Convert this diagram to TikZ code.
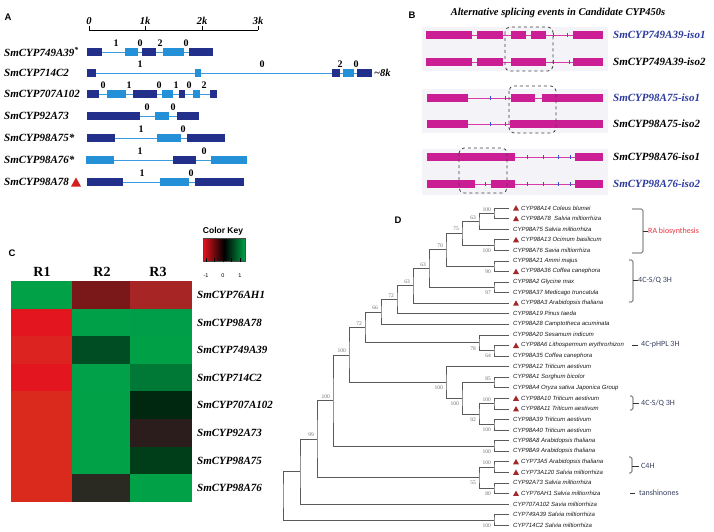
\documentclass[tikz,border=0pt]{standalone}
\usepackage{fontspec}
\setmainfont{Liberation Serif}
\setsansfont{Liberation Sans}
\newfontfamily\cladefont{Carlito}
\usepackage{xcolor}
\usepackage{tikz}
\usetikzlibrary{calc}

\definecolor{exdark}{HTML}{22308C}
\definecolor{exlight}{HTML}{2490D8}
\definecolor{intron}{HTML}{3A9BE0}
\definecolor{isomag}{HTML}{CC1E94}
\definecolor{isoline}{HTML}{D83AA8}
\definecolor{isotick}{HTML}{3A55C8}
\definecolor{isoblue}{HTML}{2B3A9E}
\definecolor{isobg}{HTML}{F3F3F8}
\definecolor{markred}{HTML}{D42020}
\definecolor{treered}{HTML}{A3282A}
\definecolor{treegrey}{HTML}{5A5A5A}
\definecolor{bootgrey}{HTML}{707070}
\definecolor{leafgrey}{HTML}{1A1A1A}
\definecolor{cladered}{HTML}{E8333C}
\definecolor{cladeblue}{HTML}{3A405E}
\definecolor{keyred}{HTML}{E8141C}
\definecolor{keygreen}{HTML}{00A147}

\tikzset{
  panel/.style={inner sep=0pt, font=\sffamily\bfseries\fontsize{9.5}{10}\selectfont},
  scalelbl/.style={inner sep=0pt, font=\bfseries\itshape\fontsize{10.5}{12}\selectfont},
  genelabel/.style={anchor=west, inner sep=0pt, font=\bfseries\itshape\fontsize{11}{12}\selectfont},
  phase/.style={inner sep=0pt, font=\bfseries\fontsize{10}{11}\selectfont},
  intronA/.style={draw=intron, line width=0.8pt},
  splicetitle/.style={inner sep=0pt, font=\bfseries\itshape\fontsize{10.5}{12}\selectfont},
  isolabel/.style={anchor=west, inner sep=0pt, font=\bfseries\itshape\fontsize{11}{12}\selectfont},
  isoline/.style={draw=isoline, line width=0.6pt},
  splicebox/.style={draw=black!75, dashed, line width=0.8pt, rounded corners=5pt},
  collabel/.style={inner sep=0pt, font=\bfseries\fontsize{14}{15}\selectfont},
  hmlabel/.style={anchor=west, inner sep=0pt, font=\bfseries\itshape\fontsize{11}{12}\selectfont},
  keytitle/.style={inner sep=0pt, font=\sffamily\bfseries\fontsize{8.5}{9}\selectfont},
  keynum/.style={inner sep=0pt, font=\sffamily\fontsize{5.5}{6}\selectfont},
  treeline/.style={draw=treegrey, line width=0.6pt},
  boot/.style={inner sep=0pt, text=bootgrey, font=\fontsize{5.5}{6}\selectfont},
  leaf/.style={anchor=west, inner sep=0pt, text=leafgrey, font=\sffamily\itshape\fontsize{6}{7}\selectfont},
  clade/.style={anchor=west, inner sep=0pt, text=cladeblue, font=\cladefont\fontsize{8}{9}\selectfont},
  bracket/.style={draw=black!80, line width=0.6pt, rounded corners=1.5pt}
}

% one gene of panel A: y, line start, line end, exons, phases
\newcommand\generow[5]{%
  \draw[intronA] (#2,#1) -- (#3,#1);
  \foreach \xa/\xb/\col in {#4} \fill[\col] (\xa,#1-4) rectangle (\xb,#1+4);
  \foreach \xp/\ph in {#5} \node[phase] at (\xp,#1-8.5) {\ph};
}
% one isoform of panel B: y, line start, line end, exons, intron ticks
\newcommand\isorow[5]{%
  \draw[isoline] (#2,#1) -- (#3,#1);
  \foreach \xa/\xb in {#4} \fill[isomag] (\xa,#1-4) rectangle (\xb,#1+4);
  \foreach \xt in {#5} \draw[isotick, line width=0.6pt] (\xt,#1-2) -- (\xt,#1+2);
}

\begin{document}
\begin{tikzpicture}[x=1pt, y=-1pt]
\useasboundingbox (0,0) rectangle (714,532);
\fill[white] (0,0) rectangle (714,532);

%% A: gene structures
\node[panel] (pa) at (8,17) {A};
\draw[line width=0.6pt] (89,30) -- (258,30);
\foreach \xt/\lb in {89/0, 145/1k, 202/2k, 258/3k}{
  \draw[line width=0.6pt] (\xt,26) -- (\xt,30);
  \node[scalelbl] at (\xt,21) {\lb};
}

\generow{52}{87}{213}{87/102/exdark,125/138/exlight,142/156/exdark,163/184/exlight,189/213/exdark}{116/1,140/0,160/2,186/0}
\generow{73}{87}{372}{87/96/exdark,195/201/exlight,332/340/exdark,343/354/exlight,357/372/exdark}{140/1,262/0,340/2,356/0}
\generow{94}{87}{217}{87/99/exdark,107/126/exlight,133/157/exdark,162/173/exlight,179/185/exdark,193/200/exlight,210/217/exdark}{103/0,129/1,159/0,176/1,189/0,204/2}
\generow{116}{87}{199}{87/140/exdark,155/169/exlight,177/199/exdark}{147/0,173/0}
\generow{138}{87}{225}{87/115/exdark,157/181/exlight,187/225/exdark}{141/1,183/0}
\generow{160}{86}{247}{86/114/exlight,173/196/exdark,211/247/exlight}{140/1,204/0}
\generow{182}{87}{244}{87/123/exdark,160/189/exlight,195/244/exdark}{142/1,191/0}
\node[scalelbl, anchor=west] (eightk) at (374,73) {\textasciitilde8k};

\foreach \i/\y/\gname in {1/52/{SmCYP749A39\textsuperscript{*}}, 2/73/SmCYP714C2, 3/94/SmCYP707A102,
    4/116/SmCYP92A73, 5/138/{SmCYP98A75*}, 6/160/{SmCYP98A76*}, 7/182/SmCYP98A78}
  \node[genelabel] (gene\i) at (4,\y) {\gname};
\fill[markred] (71,186.5) -- (81,186.5) -- (76,177.5) -- cycle;

%% B: alternative splicing
\node[panel] (pb) at (412,15) {B};
\node[splicetitle] (btitle) at (558,13) {Alternative splicing events in Candidate CYP450s};
\foreach \ya/\yb in {27/71, 89/133, 149/195} \fill[isobg] (422,\ya) rectangle (608,\yb);

\isorow{35}{426}{603}{426/472,477/503,511/526,531/546,573/603}{553,567}
\isorow{62}{426}{603}{426/472,477/503,511/546,573/603}{553,569}
\isorow{98}{427}{603}{427/468,511/535,542/603}{490,505}
\isorow{124}{427}{603}{427/468,510/603}{490,505}
\isorow{157}{427}{603}{427/515,575/603}{527,543,558,570}
\isorow{184}{427}{603}{427/475,491/515,575/603}{485,527,543,558,570}

\draw[splicebox] (505,27) rectangle (553,71);
\draw[splicebox] (509,86) rectangle (556,133);
\draw[splicebox] (459,148) rectangle (507,193);

\foreach \i/\y/\col/\iname in {1/35/isoblue/SmCYP749A39-iso1, 2/62/black/SmCYP749A39-iso2,
    3/98/isoblue/SmCYP98A75-iso1, 4/124/black/SmCYP98A75-iso2,
    5/157/black/SmCYP98A76-iso1, 6/184/isoblue/SmCYP98A76-iso2}
  \node[isolabel, text=\col] (iso\i) at (613,\y) {\iname};

%% C: heat map
\node[panel] (pc) at (12,253) {C};
\foreach \c/\xc in {1/42, 2/102, 3/158} \node[collabel] (col\c) at (\xc,272) {R\c};
\foreach \r/\ca/\cb/\cc/\gname in {1/00A147/7A1719/A82526/SmCYP76AH1,
    2/E3151F/00A048/009E48/SmCYP98A78, 3/DD2320/004D23/00A047/SmCYP749A39,
    4/E3151F/00A148/007936/SmCYP714C2, 5/DA2A1E/00A147/00270F/SmCYP707A102,
    6/DA2A1E/00A147/2A1D1B/SmCYP92A73, 7/DA2A1E/00A147/003D19/SmCYP98A75,
    8/DA2A1E/2A2A23/00A147/SmCYP98A76}{
  \pgfmathsetmacro\ytop{281+27.6*(\r-1)}
  \pgfmathsetmacro\ybot{281+27.6*\r}
  \foreach \xa/\xb/\hex in {11/72/\ca, 72/130/\cb, 130/192/\cc}{
    \edef\setcell{\noexpand\definecolor{hmcell}{HTML}{\hex}}\setcell
    \fill[hmcell] (\xa,\ytop) rectangle (\xb,\ybot);
  }
  \node[hmlabel] (hm\r) at (197,{(\ytop+\ybot)/2}) {\gname};
}

\node[keytitle] (keyt) at (223,231) {Color Key};
\shade[left color=keyred, right color=keygreen, middle color=black] (203,238) rectangle (245,261);
\draw[line width=0.4pt, draw=black!70] (203,238) rectangle (245,261);
\foreach \xt in {206,214.5,223,231.5,240} \draw[line width=0.4pt] (\xt,258) -- (\xt,262);
\foreach \xt/\lb in {206/-1, 223/0, 240/1} \node[keynum] at (\xt,276) {\lb};

%% D: phylogenetic tree
\node[panel] (pd) at (398,220) {D};
\foreach \i in {1,...,31} \coordinate (l\i) at (509,{208+(\i-1)*10.57});

\foreach \nd/\xx/\ca/\cb/\bs/\off in {
    a1/494/l1/l2/100/-4, a2/479/a1/l3/63/-4, a3/494/l4/l5/100/5.5, a4/462/a2/a3/75/-4,
    a5/494/l6/l7/90/5.5, a6/446/a4/a5/70/-4, a7/494/l8/l9/97/5.5, a8/429/a6/a7/63/-4,
    a9/413/a8/l10/63/-4, a10/397/a9/l11/72/-4, a11/381/a10/l12/66/-4,
    a12/494/l14/l15/64/5.5, a13/479/l13/a12/78/5.5, a14/365/a11/a13/72/-4,
    a15/494/l17/l18/85/-4, a16/494/l19/l20/100/-4, a17/494/l21/l22/100/5.5,
    a18/479/a16/a17/92/5.5, a19/462/a15/a18/100/5.5, a20/446/l16/a19/100/5.5,
    a21/349/a14/a20/100/-4, a22/494/l23/l24/100/5.5, a23/333/a21/a22/100/-4,
    a24/494/l25/l26/100/-4, a25/494/l27/l28/80/5.5, a26/479/a24/a25/55/5.5,
    a27/317/a23/a26/99/-4, a28/300/a27/l29//0, a29/494/l30/l31/100/5.5, a30/283/a28/a29//0}{
  \path let \p1=(\ca), \p2=(\cb) in coordinate (\nd) at (\xx,{0.5*(\y1+\y2)});
  \draw[treeline] (\ca) -| (\nd) |- (\cb);
  \ifx\bs\empty\else
    \node[boot, anchor=east] (b\nd) at ($(\nd)+(-3,\off)$) {\bs};
  \fi
}

\foreach \i/\mk/\txt in {1/1/{CYP98A14 Coleus blumei}, 2/1/{CYP98A78\ \ Salvia miltiorrhiza},
    3/0/{CYP98A75 Salvia miltiorrhiza}, 4/1/{CYP98A13 Ocimum basilicum},
    5/0/{CYP98A76 Savia miltiorrhiza}, 6/0/{CYP98A21 Ammi majus},
    7/1/{CYP98A36 Coffea canephora}, 8/0/{CYP98A2 Glycine max},
    9/0/{CYP98A37 Medicago truncatula}, 10/1/{CYP98A3 Arabidopsis thaliana},
    11/0/{CYP98A19 Pinus taeda}, 12/0/{CYP98A28 Camptotheca acuminata},
    13/0/{CYP98A20 Sesamum indicum}, 14/1/{CYP98A6 Lithospermum erythrorhizon},
    15/0/{CYP98A35 Coffea canephora}, 16/0/{CYP98A12 Triticum aestivum},
    17/0/{CYP98A1 Sorghum bicolor}, 18/0/{CYP98A4 Oryza sativa Japonica Group},
    19/1/{CYP98A10 Triticum aestivum}, 20/1/{CYP98A11 Triticum aestivum},
    21/0/{CYP98A39 Triticum aestivum}, 22/0/{CYP98A40 Triticum aestivum},
    23/0/{CYP98A8 Arabidopsis thaliana}, 24/0/{CYP98A9 Arabidopsis thaliana},
    25/1/{CYP73A5 Arabidopsis thaliana}, 26/1/{CYP73A120 Salvia miltiorrhiza},
    27/0/{CYP92A73 Salvia miltiorrhiza}, 28/1/{CYP76AH1 Salvia miltiorrhiza},
    29/0/{CYP707A102 Savia miltiorrhiza}, 30/0/{CYP749A39 Salvia miltiorrhiza},
    31/0/{CYP714C2 Salvia miltiorrhiza}}{
  \ifnum\mk=1
    \fill[treered] ($(l\i)+(4,2.6)$) -- ($(l\i)+(10,2.6)$) -- ($(l\i)+(7,-2.8)$) -- cycle;
    \node[leaf] (t\i) at ($(l\i)+(12,0)$) {\txt};
  \else
    \node[leaf] (t\i) at ($(l\i)+(4,0)$) {\txt};
  \fi
}

% clade labels
\node[clade, text=cladered] (ra) at (648,231) {RA biosynthesis};
\draw[bracket] (632,209) -| (643,253) -- (632,253);
\coordinate (rab) at (643,231);
\draw[bracket] (rab) -- (ra.west);

\node[clade] (sq1) at (638,280) {4C-S/Q 3H};
\draw[bracket] (629,260) -| (633,302) -- (629,302);
\coordinate (sq1b) at (633,280);
\draw[bracket] (sq1b) -- (sq1.west);

\node[clade] (hpl) at (641,345) {4C-pHPL 3H};
\coordinate (hplb) at (632,345);
\draw[bracket] (hplb) -- ($(hpl.west)+(-3,0)$);

\node[clade] (sq2) at (641,403) {4C-S/Q 3H};
\draw[bracket] (630,396) -| (633,410) -- (630,410);
\coordinate (sq2b) at (633,403);
\draw[bracket] (sq2b) -- ($(sq2.west)+(-2,0)$);

\node[clade] (c4h) at (641,466) {C4H};
\draw[bracket] (629,457) -| (632,473) -- (629,473);
\coordinate (c4hb) at (632,466);
\draw[bracket] (c4hb) -- ($(c4h.west)+(-2,0)$);

\node[clade] (tan) at (639,493) {tanshinones};
\coordinate (tanb) at (630,493);
\draw[bracket] (tanb) -- ($(tan.west)+(-4,0)$);

\end{tikzpicture}
\end{document}
